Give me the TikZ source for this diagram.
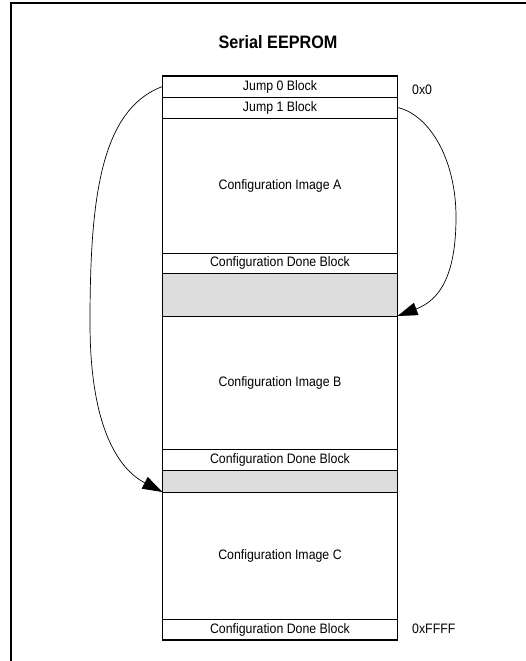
\documentclass[tikz,border=0pt]{standalone}
\usepackage{fontspec}
\setmainfont{Liberation Sans}
\newfontfamily\narrowfont[FakeStretch=0.9]{Liberation Sans}
\usetikzlibrary{arrows.meta}
\definecolor{blockgray}{HTML}{DDDDDD}
\tikzset{
  row/.style={draw, line width=0.7pt, minimum width=235pt, inner sep=0pt, outer sep=0pt,
    anchor=north, font=\narrowfont\fontsize{13.7}{15}\selectfont},
  grayrow/.style={row, fill=blockgray},
  addr/.style={anchor=west, inner sep=0pt, font=\narrowfont\fontsize{13.7}{15}\selectfont},
  jump/.style={line width=0.7pt, -{Triangle[length=20pt,width=13pt]}},
}
\begin{document}
\begin{tikzpicture}[x=1pt,y=-1pt]
\useasboundingbox (0,0) rectangle (526,661);
\draw[line width=2pt] (11,661) -- (11,3) -- (527,3);
\node[inner sep=0pt, font=\narrowfont\fontsize{18}{20}\bfseries\selectfont] (title) at (278,42) {Serial EEPROM};
\node[row, minimum height=21pt] (j0) at (280,76) {Jump 0 Block};
\node[row, minimum height=21pt] (j1) at (j0.south) {Jump 1 Block};
\node[row, minimum height=135pt] (ia) at (j1.south) {Configuration Image A};
\node[row, minimum height=20pt] (d1) at (ia.south) {Configuration Done Block};
\node[grayrow, minimum height=43pt] (g1) at (d1.south) {};
\node[row, minimum height=133.5pt] (ib) at (g1.south) {Configuration Image B};
\node[row, minimum height=21pt] (d2) at (ib.south) {Configuration Done Block};
\node[grayrow, minimum height=21.5pt] (g2) at (d2.south) {};
\node[row, minimum height=127pt] (ic) at (g2.south) {Configuration Image C};
\node[row, minimum height=21pt] (d3) at (ic.south) {Configuration Done Block};
\draw[line width=1.5pt] (j0.north west) rectangle (d3.south east);
\node[addr] (a0) at (412,90) {0x0};
\node[addr] (a1) at (412,629) {0xFFFF};
\draw[jump] (j0.west) .. controls (100,110) and (90,200) .. (90,323)
  .. controls (90,430) and (120,470) .. (g2.south west);
\draw[jump] (j1.east) .. controls (430,115) and (456,160) .. (456,217)
  .. controls (456,275) and (440,300) .. (g1.south east);
\end{tikzpicture}
\end{document}
